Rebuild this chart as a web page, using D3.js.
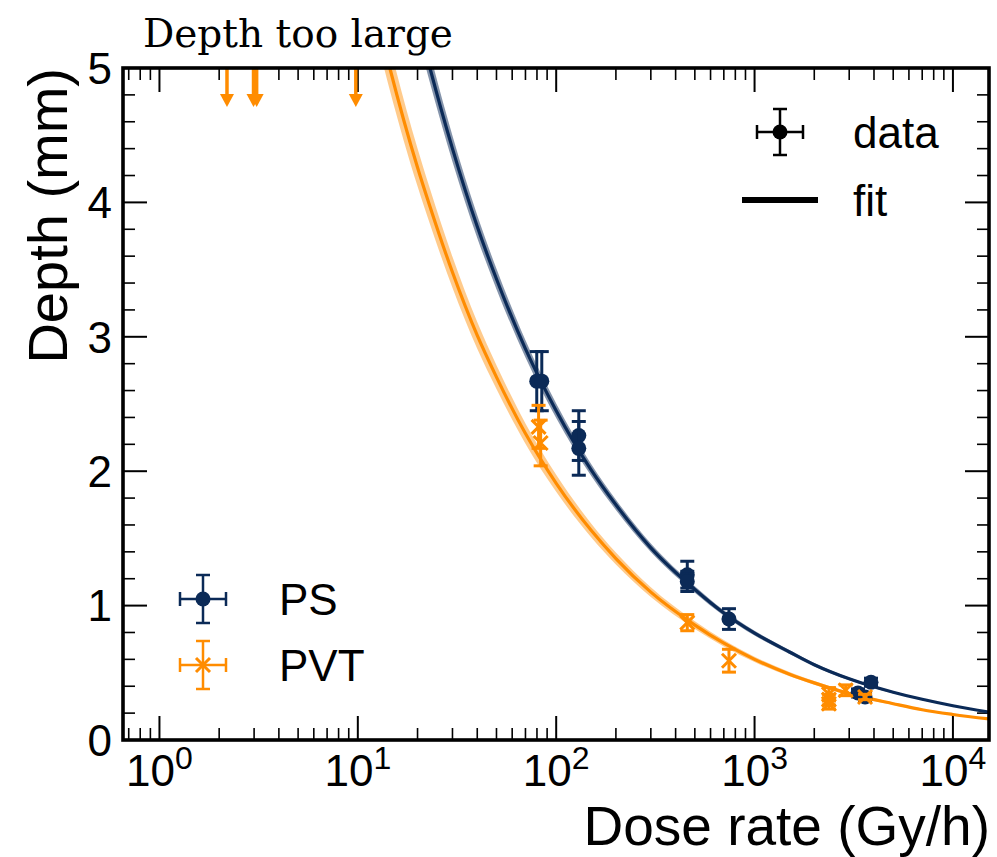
<!DOCTYPE html>
<html>
<head>
<meta charset="utf-8">
<script src="https://cdn.jsdelivr.net/npm/d3@7"></script>
<style>
  body { margin: 0; background: #fff; }
  svg { display: block; }
  text { font-family: "Liberation Sans", Arial, sans-serif; fill: #000; }
</style>
</head>
<body>
<script>
// ---- data ----
// measurements: [dose rate (Gy/h), depth (mm), depth error (mm)]
const psDose  = [79.8, 84.6, 130, 130, 458, 458, 743, 3863, 3323, 3606];
const psDepth = [2.67, 2.67, 2.265, 2.17, 1.23, 1.18, 0.90, 0.43, 0.35, 0.32];
const psErr   = [0.22, 0.22, 0.185, 0.20, 0.10, 0.075, 0.077, 0.03, 0.03, 0.03];

const pvtDose  = [81.5, 83.5, 458, 743, 2370, 2370, 2370, 2880, 3606];
const pvtDepth = [2.33, 2.21, 0.873, 0.59, 0.34, 0.30, 0.27, 0.37, 0.32];
const pvtErr   = [0.16, 0.17, 0.06, 0.085, 0.05, 0.04, 0.04, 0.04, 0.02];

// PVT samples whose depth is above the axis range (drawn as arrows at 5 mm)
const tooLargeDose = [2.19, 2.98, 3.09, 9.77];

// fitted curves
const fitDose     = [13, 14.5, 20, 23.1, 30, 40, 50, 70, 100, 150, 200, 300, 500, 700, 1000, 1500, 2000, 3000, 5000, 7000, 10000, 15500];
const psFitDepth  = [6.6, 6.25, 5.36, 5.0, 4.4, 3.82, 3.43, 2.91, 2.45, 2.01, 1.75, 1.43, 1.12, 0.945, 0.795, 0.655, 0.56, 0.455, 0.355, 0.303, 0.255, 0.205];
const pvtFitDepth = [5.28, 5.0, 4.26, 3.97, 3.48, 3.01, 2.70, 2.28, 1.91, 1.56, 1.35, 1.10, 0.855, 0.72, 0.60, 0.49, 0.425, 0.345, 0.27, 0.225, 0.19, 0.155];
const psBandRel = 0.022, pvtBandRel = 0.033;

const xTicks = [1, 10, 100, 1000, 10000];
const xTickExp = ["0", "1", "2", "3", "4"];
const yTicks = [0, 1, 2, 3, 4, 5];

const navy = "#0b2a57", orange = "#ff8c00";

// ---- layout ----
const W = 997, H = 857;
const L = 123, R = 989, T = 68, B = 740;

const svg = d3.select("body").append("svg")
    .attr("width", W).attr("height", H);

const x = d3.scaleLog().domain([0.655, 15200]).range([L, R]);
const y = d3.scaleLinear().domain([0, 5]).range([B, T]);

svg.append("clipPath").attr("id", "plot")
  .append("rect").attr("x", L).attr("y", T).attr("width", R - L).attr("height", B - T);

// ---- ticks (inward on every side) ----
const ticks = svg.append("g").attr("stroke", "#000");
const minorX = [];
for (let e = -1; e <= 4; e++)
  for (let k = 2; k <= 9; k++) {
    const v = k * Math.pow(10, e);
    if (v > 0.655 && v < 15200) minorX.push(v);
  }
const minorY = d3.range(0, 5.001, 0.2).filter(v => Math.abs(v - Math.round(v)) > 1e-6);

function vTicks(vals, len, w) {
  vals.forEach(v => {
    ticks.append("line").attr("x1", x(v)).attr("x2", x(v)).attr("y1", B).attr("y2", B - len).attr("stroke-width", w);
    ticks.append("line").attr("x1", x(v)).attr("x2", x(v)).attr("y1", T).attr("y2", T + len).attr("stroke-width", w);
  });
}
function hTicks(vals, len, w) {
  vals.forEach(v => {
    ticks.append("line").attr("y1", y(v)).attr("y2", y(v)).attr("x1", L).attr("x2", L + len).attr("stroke-width", w);
    ticks.append("line").attr("y1", y(v)).attr("y2", y(v)).attr("x1", R).attr("x2", R - len).attr("stroke-width", w);
  });
}
vTicks(xTicks, 24, 2);
vTicks(minorX, 12, 1.6);
hTicks(yTicks, 24, 2);
hTicks(minorY, 12, 1.6);

// tick labels
const xl = svg.append("g");
xTicks.forEach((v, i) => {
  const t = xl.append("text").attr("x", x(v)).attr("y", 786)
    .attr("text-anchor", "middle").style("font-size", "44px");
  t.append("tspan").text("10");
  t.append("tspan").attr("dy", -17).style("font-size", "32px").text(xTickExp[i]);
});
yTicks.forEach(v => {
  svg.append("text").attr("x", 112).attr("y", y(v)).attr("dy", "0.36em")
    .attr("text-anchor", "end").style("font-size", "44px").text(v);
});

// axis titles
svg.append("text").attr("x", R + 1).attr("y", 845).attr("text-anchor", "end")
  .style("font-size", "55px").text("Dose rate (Gy/h)");
svg.append("text").attr("transform", `translate(67,${T}) rotate(-90)`)
  .attr("text-anchor", "end").style("font-size", "56px").text("Depth (mm)");

svg.append("text").attr("x", 143).attr("y", 47)
  .style("font-family", "'DejaVu Serif', serif").style("font-size", "39px")
  .text("Depth too large");

// ---- fits ----
const plot = svg.append("g").attr("clip-path", "url(#plot)");
function drawFit(depths, rel, col, bandOpacity) {
  const pts = fitDose.map((d, i) => [d, depths[i]]);
  plot.append("path").datum(pts)
    .attr("d", d3.area().x(p => x(p[0])).y0(p => y(p[1] * (1 - rel))).y1(p => y(p[1] * (1 + rel))).curve(d3.curveMonotoneX))
    .attr("fill", col).attr("fill-opacity", bandOpacity);
  plot.append("path").datum(pts)
    .attr("d", d3.line().x(p => x(p[0])).y(p => y(p[1])).curve(d3.curveMonotoneX))
    .attr("fill", "none").attr("stroke", col).attr("stroke-width", 3.2);
}
drawFit(pvtFitDepth, pvtBandRel, orange, 0.45);
drawFit(psFitDepth, psBandRel, navy, 0.5);

// ---- error bars ----
const cap = 7;
function errBar(g, cx, cy, ey, ex, col, w) {
  g.append("line").attr("x1", cx).attr("x2", cx).attr("y1", cy - ey).attr("y2", cy + ey)
    .attr("stroke", col).attr("stroke-width", w);
  [cy - ey, cy + ey].forEach(yy => g.append("line").attr("x1", cx - cap).attr("x2", cx + cap)
    .attr("y1", yy).attr("y2", yy).attr("stroke", col).attr("stroke-width", w));
  if (ex) {
    g.append("line").attr("x1", cx - ex).attr("x2", cx + ex).attr("y1", cy).attr("y2", cy)
      .attr("stroke", col).attr("stroke-width", w);
    [cx - ex, cx + ex].forEach(xx => g.append("line").attr("x1", xx).attr("x2", xx)
      .attr("y1", cy - cap).attr("y2", cy + cap).attr("stroke", col).attr("stroke-width", w));
  }
}
function circleMark(g, cx, cy, col) {
  g.append("circle").attr("cx", cx).attr("cy", cy).attr("r", 7.5).attr("fill", col);
}
function crossMark(g, cx, cy, col) {
  const s = 7;
  g.append("path").attr("d", `M${cx - s},${cy - s}L${cx + s},${cy + s}M${cx - s},${cy + s}L${cx + s},${cy - s}`)
    .attr("stroke", col).attr("stroke-width", 3).attr("fill", "none");
}

const pts = svg.append("g");
psDose.forEach((d, i) => {
  const cx = x(d), cy = y(psDepth[i]);
  errBar(pts, cx, cy, y(0) - y(psErr[i]), 0, navy, 3);
  circleMark(pts, cx, cy, navy);
});
pvtDose.forEach((d, i) => {
  const cx = x(d), cy = y(pvtDepth[i]);
  errBar(pts, cx, cy, y(0) - y(pvtErr[i]), 0, orange, 3);
  crossMark(pts, cx, cy, orange);
});

// arrows for depth > 5 mm
tooLargeDose.forEach(d => {
  const cx = x(d), y0 = y(5);
  pts.append("line").attr("x1", cx).attr("x2", cx).attr("y1", y0).attr("y2", y0 + 28)
    .attr("stroke", orange).attr("stroke-width", 3.5);
  pts.append("path").attr("d", `M${cx - 7},${y0 + 26}L${cx + 7},${y0 + 26}L${cx},${y0 + 39}Z`)
    .attr("fill", orange);
});

// ---- frame ----
svg.append("rect").attr("x", L).attr("y", T).attr("width", R - L).attr("height", B - T)
  .attr("fill", "none").attr("stroke", "#000").attr("stroke-width", 3.6);

// ---- legends ----
const lg = svg.append("g");
errBar(lg, 780, 132, 23, 23, "#000", 2.5);
circleMark(lg, 780, 132, "#000");
lg.append("text").attr("x", 853).attr("y", 148).style("font-size", "44px").text("data");
lg.append("line").attr("x1", 742).attr("x2", 818).attr("y1", 200).attr("y2", 200)
  .attr("stroke", "#000").attr("stroke-width", 6);
lg.append("text").attr("x", 853).attr("y", 216).style("font-size", "44px").text("fit");

errBar(lg, 203, 599, 24, 23, navy, 2.5);
circleMark(lg, 203, 599, navy);
lg.append("text").attr("x", 279).attr("y", 615).style("font-size", "44px").text("PS");
errBar(lg, 203, 665, 24, 23, orange, 2.5);
crossMark(lg, 203, 665, orange);
lg.append("text").attr("x", 279).attr("y", 681).style("font-size", "44px").text("PVT");
</script>
</body>
</html>
